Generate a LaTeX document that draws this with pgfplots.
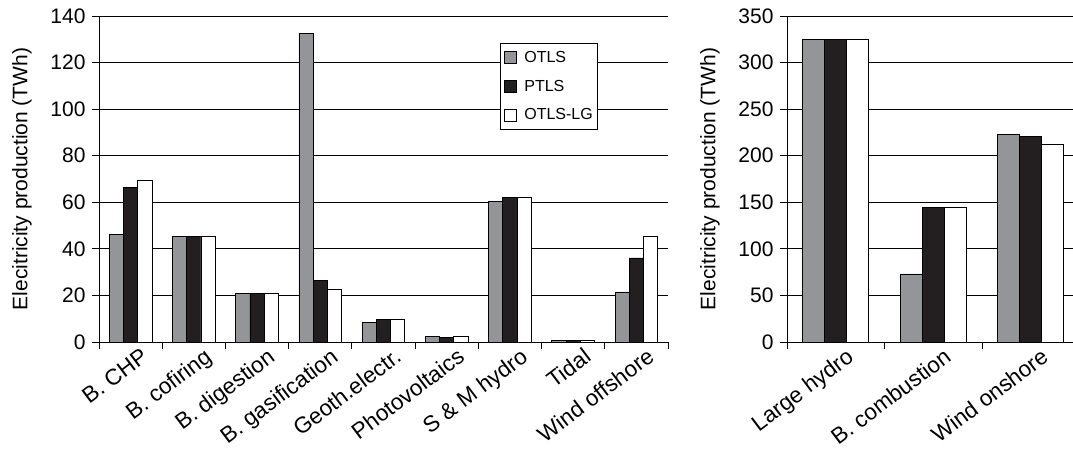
\documentclass[border=0pt]{standalone}
\usepackage{fontspec}
\setmainfont{Liberation Sans}
\usepackage{pgfplots}
\pgfplotsset{compat=1.18}
\definecolor{bargray}{HTML}{939598}
\definecolor{barblack}{HTML}{231F20}
\pgfplotstableread{
x otls ptls lg
0 46.0 66.4 69.2
1 45.3 45.3 45.3
2 20.8 20.8 20.8
3 132.6 26.4 22.5
4 8.3 9.6 9.6
5 2.3 1.9 2.3
6 60.4 62.1 62.1
7 0.6 0.6 0.6
8 21.5 36.1 45.3
}\lefttable
\pgfplotstableread{
x otls ptls lg
0 325.3 325.3 325.3
1 73.1 144.7 144.7
2 222.4 221.0 211.7
}\righttable
\begin{document}
\begin{tikzpicture}[x=1pt,y=1pt]
\pgfplotsset{
  mystyle/.style={
    scale only axis, height=326pt,
    anchor=south west,
    ybar=0pt, bar width=0.225,
    axis x line*=bottom, axis y line*=left,
    axis line style={black, line width=0.8pt},
    ymin=0, ymajorgrids,
    major grid style={black, line width=0.8pt},
    tick style={black, line width=0.8pt},
    major tick length=0pt,
    minor tick length=7pt,
    tick align=outside,
    /pgf/number format/assume math mode=true,
    yticklabel style={font=\fontsize{21}{21}\selectfont, xshift=-10pt},
    xticklabel style={rotate=37, anchor=north east, font=\fontsize{22.5}{22.5}\selectfont, xshift=8pt, yshift=-6pt},
    xtick=data,
    every axis y label/.style={at={(rel axis cs:0,0.5)}, xshift=-77pt, rotate=90, anchor=center, font=\fontsize{21}{21}\selectfont},
    ylabel={Elecitricity production (TWh)},
    legend image code/.code={\draw[##1] (0pt,-6pt) rectangle (12pt,6pt); \path (18pt,0pt);},
  },
  otlsstyle/.style={fill=bargray, draw=black, line width=0.8pt},
  ptlsstyle/.style={fill=barblack, draw=black, line width=0.8pt},
  lgstyle/.style={fill=white, draw=black, line width=0.8pt},
}
\begin{axis}[mystyle,
  at={(99pt,117pt)}, width=569pt,
  ymax=140, ytick={0,20,...,140}, minor ytick={0,20,...,140},
  xmin=-0.5, xmax=8.5,
  minor xtick={-0.5,0.5,...,8.5},
  xticklabels={B. CHP, B. cofiring, B. digestion, B. gasification, Geoth.electr., Photovoltaics, S \& M hydro, Tidal, Wind offshore},
  legend style={at={(rel axis cs:0.705,0.917)}, anchor=north west, draw=black, line width=0.8pt,
    font=\fontsize{16}{16}\selectfont, row sep=12pt, inner xsep=3pt, inner ysep=6pt},
  legend cell align=left,
]
\addplot[otlsstyle] table[x=x,y=otls]{\lefttable};
\addplot[ptlsstyle] table[x=x,y=ptls]{\lefttable};
\addplot[lgstyle] table[x=x,y=lg]{\lefttable};
\legend{OTLS, PTLS, OTLS-LG}
\end{axis}
\begin{axis}[mystyle,
  at={(787pt,117pt)}, width=286pt,
  ymax=350, ytick={0,50,...,350}, minor ytick={0,50,...,350},
  xmin=-0.5, xmax=2.435,
  minor xtick={-0.5,0.5,1.5},
  xticklabels={Large hydro, B. combustion, Wind onshore},
]
\addplot[otlsstyle] table[x=x,y=otls]{\righttable};
\addplot[ptlsstyle] table[x=x,y=ptls]{\righttable};
\addplot[lgstyle] table[x=x,y=lg]{\righttable};
\end{axis}
\pgfresetboundingbox
\path[use as bounding box] (0,0) rectangle (1073,459);
\end{tikzpicture}
\end{document}
